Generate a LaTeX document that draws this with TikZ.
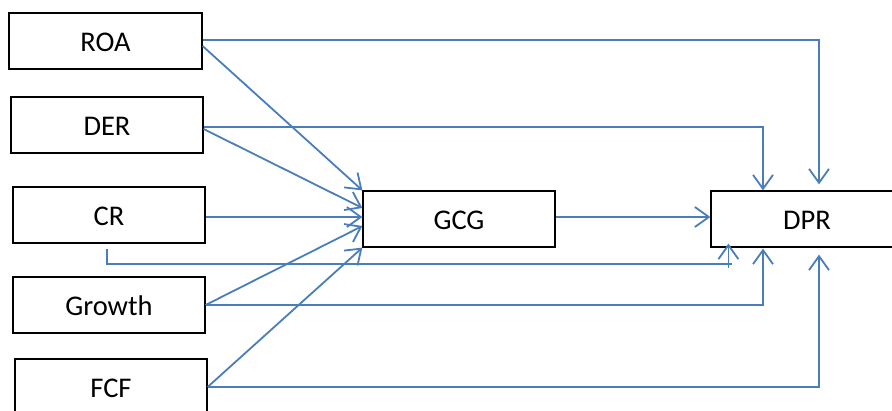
\documentclass[tikz,border=0pt]{standalone}
\usepackage{fontspec}
\setmainfont{Carlito}
\usetikzlibrary{arrows.meta}
\definecolor{linkblue}{RGB}{74,126,187}
\tikzset{
  box/.style={draw=black, line width=1.2pt, minimum width=192pt, minimum height=56pt,
    inner sep=0pt, text height=21.5pt, text depth=0pt, font=\fontsize{28.5}{34}\selectfont},
  conn/.style={draw=linkblue, line width=1.8pt},
  arr/.style={conn, -{Straight Barb[length=14pt,width=20pt]}}
}
\begin{document}
\begin{tikzpicture}[x=1pt, y=-1pt]
\useasboundingbox (0,0) rectangle (892,410);

% predictor boxes
\node[box, minimum width=193pt] (ROA) at (105.5,41) {ROA};
\node[box] (DER) at (107,125) {DER};
\node[box] (CR) at (109,215) {CR};
\node[box] (Growth) at (109,305) {Growth};
\node[box] (FCF) at (111,387) {FCF};

% mediator and outcome
\node[box] (GCG) at (459,219) {GCG};
\node[box] (DPR) at (807,219) {DPR};

% paths into GCG
\draw[arr] ([yshift=-5]ROA.east) -- (GCG.north west);
\draw[arr] ([yshift=-4]DER.east) -- ([yshift=11]GCG.west);
\draw[arr] ([yshift=-2]CR.east) -- ([yshift=2]GCG.west);
\draw[arr] (Growth.east) -- ([yshift=-7]GCG.west);
\draw[arr] (FCF.east) -- (GCG.south west);

% GCG to DPR
\draw[arr] ([yshift=2]GCG.east) -- ([yshift=2]DPR.west);

% direct paths into DPR
\draw[arr] ([yshift=1]ROA.east) -| ([xshift=12,yshift=6]DPR.north);
\draw[arr] ([yshift=-2]DER.east) -| ([xshift=-44]DPR.north);
\draw[conn] ([xshift=-2,yshift=-5]CR.south) |- ([xshift=22,yshift=-16]DPR.south west);
\draw[arr] ([xshift=18,yshift=-20]DPR.south west) -- ([xshift=18,yshift=4]DPR.south west);
\draw[arr] (Growth.east) -| ([xshift=-44,yshift=-1]DPR.south);
\draw[arr] (FCF.east) -| ([xshift=12,yshift=-7]DPR.south);
\end{tikzpicture}
\end{document}
